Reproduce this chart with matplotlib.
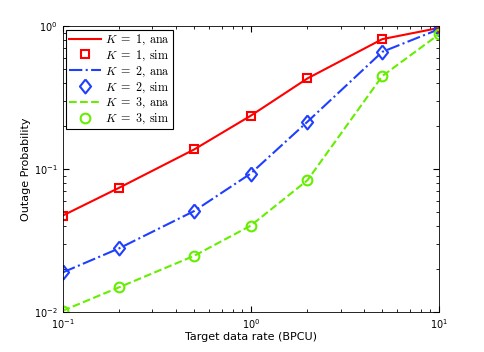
import matplotlib as mpl
mpl.use('Agg')
import matplotlib.pyplot as plt

rate = [0.1, 0.2, 0.5, 1, 2, 5, 10]
k1 = [0.0472, 0.074, 0.137, 0.236, 0.43, 0.81, 0.97]
k2 = [0.0189, 0.0279, 0.0508, 0.093, 0.214, 0.66, 0.95]
k3 = [0.0102, 0.0149, 0.0247, 0.0402, 0.0834, 0.447, 0.875]

plt.rcParams['mathtext.fontset'] = 'cm'
plt.rcParams['font.family'] = 'DejaVu Sans'

red = '#ff0000'
blue = '#1f3fff'
green = '#66ee00'
# matlab style diamond (slightly taller than wide)
diamond = [(0, 1), (0.8, 0), (0, -1), (-0.8, 0), (0, 1)]

fig = plt.figure(figsize=(4.85, 3.52), dpi=100)
ax = fig.add_axes([0.129, 0.1136, 0.776, 0.8124])

ax.plot(rate, k1, '-', color=red, lw=1.5, label=r'$K\ =\ 1,\,\mathrm{ana}$')
ax.plot(rate, k1, 's', color=red, mfc='none', mew=1.5, ms=6, label=r'$K\ =\ 1,\,\mathrm{sim}$')
ax.plot(rate, k2, '-.', color=blue, lw=1.5, label=r'$K\ =\ 2,\,\mathrm{ana}$')
ax.plot(rate, k2, ls='none', marker=diamond, color=blue, mfc='none', mew=1.5, ms=10,
        label=r'$K\ =\ 2,\,\mathrm{sim}$')
ax.plot(rate, k3, '--', color=green, lw=1.5, label=r'$K\ =\ 3,\,\mathrm{ana}$')
ax.plot(rate, k3, 'o', color=green, mfc='none', mew=1.5, ms=7, label=r'$K\ =\ 3,\,\mathrm{sim}$')

ax.set_xscale('log')
ax.set_yscale('log')
ax.set_xlim(0.1, 10)
ax.set_ylim(0.01, 1)
ax.tick_params(which='both', direction='in', top=True, right=True, labelsize=7)
ax.tick_params(which='major', length=4)
ax.tick_params(which='minor', length=2)
for s in ax.spines.values():
    s.set_linewidth(0.6)

ax.set_xlabel('Target data rate (BPCU)', fontsize=8, labelpad=1)
ax.set_ylabel('Outage Probability', fontsize=8, labelpad=2)

leg = ax.legend(loc='upper left', fontsize=8.7, fancybox=False, framealpha=1,
                edgecolor='black', borderaxespad=0.3, handlelength=2.6,
                labelspacing=0.12, borderpad=0.25, handletextpad=0.4)
leg.get_frame().set_linewidth(0.8)

plt.savefig('out.png', dpi=100)
